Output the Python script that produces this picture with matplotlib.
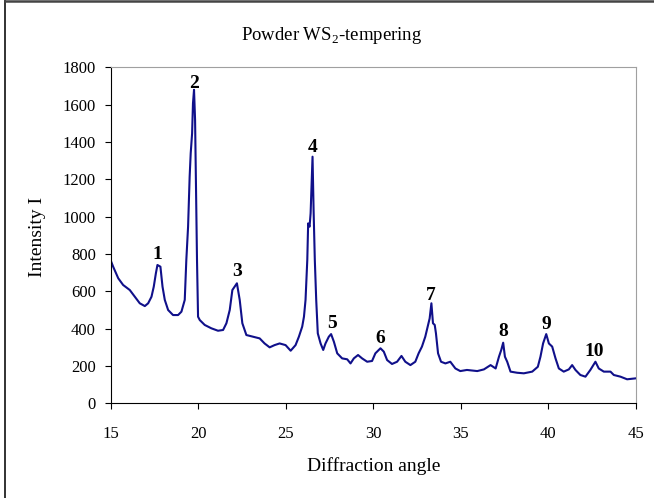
import matplotlib
matplotlib.use("Agg")
import matplotlib.pyplot as plt
from matplotlib.lines import Line2D

plt.rcParams['font.family'] = ['Liberation Serif', 'DejaVu Serif']

# diffraction angle vs intensity (rows of 10)
angle = [15.0, 15.15, 15.44, 15.72, 16.10, 16.39, 16.67, 16.96, 17.15, 17.34,
         17.47, 17.59, 17.68, 17.85, 17.97, 18.10, 18.29, 18.57, 18.86, 19.05,
         19.24, 19.33, 19.43, 19.52, 19.58, 19.66, 19.71, 19.77, 19.83, 19.89,
         19.94, 20.0, 20.10, 20.38, 20.76, 21.14, 21.43, 21.62, 21.81, 21.96,
         22.09, 22.22, 22.38, 22.53, 22.76, 23.14, 23.52, 23.80, 24.09, 24.37,
         24.66, 25.0, 25.29, 25.57, 25.76, 25.95, 26.05, 26.14, 26.24, 26.29,
         26.37, 26.43, 26.48, 26.54, 26.60, 26.67, 26.75, 26.84, 27.0, 27.15,
         27.28, 27.47, 27.60, 27.76, 27.95, 28.23, 28.52, 28.71, 28.90, 29.14,
         29.37, 29.66, 29.94, 30.13, 30.42, 30.61, 30.80, 31.08, 31.37, 31.62,
         31.84, 32.13, 32.41, 32.60, 32.79, 32.98, 33.12, 33.23, 33.33, 33.42,
         33.52, 33.59, 33.71, 33.88, 34.13, 34.41, 34.70, 34.98, 35.36, 35.95,
         36.33, 36.71, 37.0, 37.19, 37.32, 37.43, 37.53, 37.66, 37.85, 38.23,
         38.61, 39.09, 39.41, 39.56, 39.71, 39.89, 40.04, 40.23, 40.42, 40.61,
         40.89, 41.18, 41.37, 41.56, 41.84, 42.13, 42.41, 42.70, 42.89, 43.18,
         43.56, 43.75, 44.13, 44.51, 45.0]
intensity = [768, 732, 670, 634, 607, 571, 536, 521, 536, 571,
             625, 696, 741, 732, 625, 554, 500, 473, 473, 491,
             554, 768, 946, 1214, 1339, 1446, 1607, 1679, 1518, 1107,
             768, 464, 446, 420, 402, 389, 393, 429, 500, 607,
             625, 643, 554, 429, 366, 357, 348, 321, 300, 312,
             321, 312, 282, 312, 357, 411, 464, 554, 768, 964,
             946, 1018, 1161, 1321, 1036, 768, 554, 375, 321, 286,
             321, 357, 371, 330, 268, 241, 236, 214, 241, 259,
             241, 223, 227, 268, 295, 277, 232, 211, 223, 254,
             223, 205, 223, 268, 304, 357, 411, 455, 536, 429,
             420, 375, 268, 223, 214, 223, 187, 173, 179, 173,
             182, 205, 187, 250, 286, 325, 250, 223, 170, 164,
             161, 170, 196, 250, 321, 371, 321, 304, 241, 187,
             170, 182, 205, 179, 152, 143, 179, 223, 187, 170,
             170, 152, 143, 129, 134]

peak_labels = ['1', '2', '3', '4', '5', '6', '7', '8', '9', '10']
peak_x = [17.68, 19.77, 22.22, 26.55, 27.66, 30.42, 33.31, 37.41, 39.91, 42.63]
peak_y = [795, 1714, 705, 1371, 429, 348, 580, 384, 420, 277]

fig = plt.figure(figsize=(6.54, 4.98), dpi=100)
ax = fig.add_axes([0.169, 0.19, 0.803, 0.675])

ax.plot(angle, intensity, color='#10108a', lw=1.5)

for lab, px, py in zip(peak_labels, peak_x, peak_y):
    ax.text(px, py, lab, ha='center', va='center', fontsize=14, fontweight='bold')

ax.set_xlim(15, 45)
ax.set_ylim(0, 1800)
ax.set_xticks(range(15, 46, 5))
ax.set_yticks(range(0, 1801, 200))
ax.tick_params(direction='out', length=4.5, width=0.8, labelsize=12, colors='black')
ax.tick_params(axis='x', pad=12)
ax.tick_params(axis='y', pad=6)
ax.spines['top'].set_color('#a0a0a0')
ax.spines['right'].set_color('#a0a0a0')

fig.text(0.571, 0.064, 'Diffraction angle', ha='center', va='center', fontsize=14)
fig.text(0.058, 0.525, 'Intensity I', ha='center', va='center', fontsize=14, rotation=90)
fig.text(0.507, 0.929, r'Powder WS$_\mathregular{2}$-tempering', ha='center', va='center', fontsize=13.5)

# the frame round the figure shows only on its left and top edges
fig.lines.append(Line2D([0.008, 0.008], [0, 0.998], transform=fig.transFigure, color='#222222', lw=1.3))
fig.lines.append(Line2D([0.008, 1.0], [0.997, 0.997], transform=fig.transFigure, color='#444444', lw=1.8))

fig.savefig('out.png', dpi=100)
